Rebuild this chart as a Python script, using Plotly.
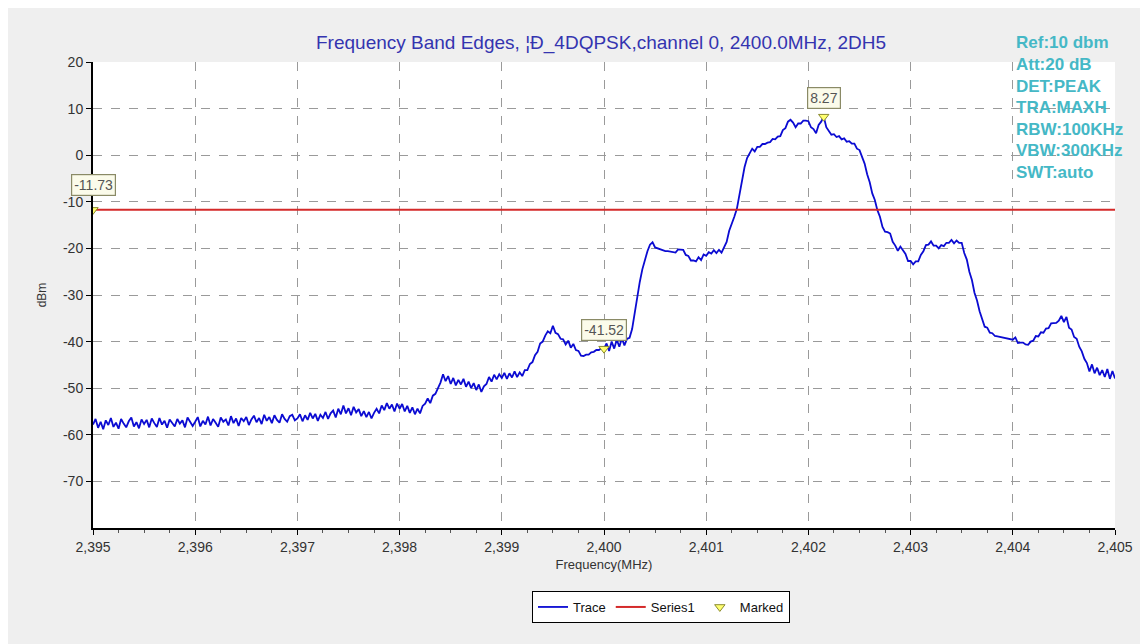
import plotly.graph_objects as go

# ---------------- data ----------------
f_start = 2395.0
f_step = 0.025  # MHz between trace samples

trace_2395 = [-57.8,-56.6,-58.5,-57.2,-58.8,-56.9,-57.9,-56.4,-58.3,-57.4,-58.7,-56.6,-57.6,-58.4,-57.1,-56.3,-58.2,-57.3,-58.6,-56.7,
              -57.7,-56.8,-58.4,-56.5,-57.5,-58.3,-56.4,-57.8,-57.0,-58.5,-56.7,-57.4,-58.2,-56.6,-57.6,-56.9,-58.4,-56.3,-57.3,-58.1]
trace_2396 = [-57.2,-56.2,-58.2,-57.0,-57.8,-56.1,-58.0,-56.6,-57.4,-58.3,-56.3,-57.2,-56.7,-58.0,-56.0,-57.5,-56.5,-58.1,-56.4,-57.1,
              -56.2,-57.9,-56.7,-55.9,-57.3,-56.4,-57.7,-55.7,-57.0,-56.2,-57.5,-55.8,-56.8,-57.4,-55.6,-56.6,-57.2,-56.0,-55.7,-56.9]
trace_2397 = [-56.5,-55.6,-57.1,-55.8,-56.8,-55.3,-56.5,-55.5,-57.0,-55.7,-56.4,-55.1,-56.6,-55.4,-54.8,-56.3,-54.4,-55.6,-53.7,-55.4,
              -54.3,-55.8,-54.0,-55.2,-54.5,-56.0,-54.9,-56.2,-55.1,-56.5,-55.3,-54.4,-55.4,-53.7,-54.7,-53.2,-54.4,-53.5,-55.0,-53.3]
trace_2398 = [-54.4,-53.4,-55.0,-53.8,-55.3,-54.1,-55.6,-54.4,-55.4,-53.8,-53.3,-52.2,-53.2,-51.6,-51.2,-50.0,-48.8,-47.0,-48.5,-47.4,
              -49.1,-47.8,-49.4,-48.2,-49.2,-48.0,-49.7,-48.6,-50.0,-48.9,-50.4,-49.2,-50.8,-49.6,-49.1,-47.6,-48.6,-47.1,-48.1,-47.0]
trace_2399 = [-47.8,-46.7,-48.0,-46.8,-47.7,-46.4,-47.6,-46.6,-47.4,-46.1,-46.1,-44.8,-44.4,-42.9,-42.2,-40.4,-40.0,-38.7,-37.8,-38.2,
              -36.6,-38.1,-38.4,-39.4,-39.5,-40.6,-39.8,-41.3,-40.5,-41.8,-42.0,-43.0,-43.1,-42.8,-42.8,-42.3,-42.2,-41.8,-41.8,-41.4]
trace_2400 = [-41.5,-40.4,-42.0,-40.0,-41.5,-39.6,-41.1,-39.3,-40.8,-39.4,-39.2,-37.3,-33.8,-30.0,-27.2,-24.5,-22.3,-20.6,-19.2,-18.7,
              -19.8,-20.0,-20.1,-20.4,-20.6,-20.6,-20.7,-20.8,-20.9,-20.2,-20.3,-20.3,-21.4,-21.6,-22.6,-22.6,-22.8,-21.9,-22.5,-21.3]
trace_2401 = [-21.6,-20.8,-21.1,-20.4,-21.0,-20.3,-20.9,-19.8,-18.6,-16.2,-14.8,-13.2,-11.5,-8.4,-5.2,-2.6,-0.6,0.5,1.4,0.8,
              1.8,1.8,2.4,2.4,2.7,2.8,3.5,3.4,4.0,4.1,5.4,5.8,7.2,7.6,7.0,6.0,6.8,6.8,7.4,7.4]
trace_2402 = [7.3,6.0,5.6,4.7,6.5,7.2,8.27,6.0,5.1,4.4,4.5,3.9,4.1,3.4,3.6,2.9,3.0,2.5,2.5,1.4,
              1.1,-0.6,-1.8,-4.1,-5.8,-8.2,-9.6,-11.8,-13.2,-15.4,-16.4,-16.5,-16.8,-18.6,-19.4,-20.5,-19.6,-20.4,-21.2,-22.7]
trace_2403 = [-22.7,-23.4,-22.8,-22.8,-21.4,-20.6,-19.3,-19.2,-18.5,-19.4,-19.4,-20.0,-19.3,-19.5,-18.8,-18.8,-18.2,-18.9,-18.3,-18.8,
              -18.8,-21.0,-22.4,-25.0,-26.8,-29.5,-31.2,-33.5,-35.0,-36.8,-37.0,-38.1,-38.2,-38.8,-38.9,-39.0,-39.1,-39.2,-39.4,-39.4]
trace_2404 = [-39.6,-39.1,-40.3,-40.2,-40.2,-40.6,-40.7,-40.0,-39.8,-38.8,-38.9,-38.0,-38.1,-37.2,-37.1,-36.1,-36.1,-36.0,-35.5,-34.5,
              -35.8,-34.7,-37.0,-37.4,-39.0,-39.4,-41.1,-42.1,-43.7,-44.6,-46.4,-44.9,-46.8,-45.6,-47.2,-46.1,-47.6,-45.9,-48.0,-46.3,
              -47.9]

trace_dbm = (trace_2395 + trace_2396 + trace_2397 + trace_2398 + trace_2399 +
             trace_2400 + trace_2401 + trace_2402 + trace_2403 + trace_2404)
trace_mhz = [round(f_start + i * f_step, 4) for i in range(len(trace_dbm))]

limit_mhz = [2395.0, 2405.0]
limit_dbm = [-11.73, -11.73]

marker_mhz = [2395.0, 2400.0, 2402.15]
marker_dbm = [-11.73, -41.52, 8.27]
marker_labels = ["-11.73", "-41.52", "8.27"]
label_lift = [25, 19, 19]   # pixels above the marked point

x_ticks = [2395, 2396, 2397, 2398, 2399, 2400, 2401, 2402, 2403, 2404, 2405]
x_labels = ["2,395", "2,396", "2,397", "2,398", "2,399", "2,400", "2,401", "2,402", "2,403", "2,404", "2,405"]
y_ticks = [-70, -60, -50, -40, -30, -20, -10, 0, 10, 20]
y_labels = ["-70", "-60", "-50", "-40", "-30", "-20", "-10", "0", "10", "20"]

info_lines = ["Ref:10 dbm", "Att:20 dB", "DET:PEAK", "TRA:MAXH", "RBW:100KHz", "VBW:300KHz", "SWT:auto"]

title_text = "Frequency Band Edges, ¦Ð_4DQPSK,channel 0, 2400.0MHz, 2DH5"

# ---------------- figure ----------------
FONT = "Liberation Sans, Arial, sans-serif"
OFF = 8                      # page body margin
W, H = 1140, 636
L, R, T, B = 85, 33, 54, 116
PW, PH = W - L - R, H - T - B

def px_x(px):               # screenshot pixel -> paper coordinate
    return (px - OFF - L) / PW

def px_y(py):
    return (H - B - (py - OFF)) / PH

fig = go.Figure()
fig.add_trace(go.Scatter(x=trace_mhz, y=trace_dbm, mode="lines", name="Trace",
                         line=dict(color="#0b0bd2", width=1.8)))
fig.add_trace(go.Scatter(x=limit_mhz, y=limit_dbm, mode="lines", name="Series1",
                         line=dict(color="#d42a2a", width=2)))
fig.add_trace(go.Scatter(x=marker_mhz, y=marker_dbm, mode="markers", name="Marked",
                         marker=dict(symbol="triangle-down", size=9, color="#ffff70",
                                     line=dict(color="#8c8c30", width=1))))

for mx, my, lab, lift in zip(marker_mhz, marker_dbm, marker_labels, label_lift):
    fig.add_annotation(x=mx, y=my, text=lab, showarrow=False, yshift=lift,
                       yanchor="middle", xanchor="center",
                       bgcolor="#fbfbea", bordercolor="#8a8a66", borderwidth=1.2,
                       borderpad=2, font=dict(family=FONT, size=14, color="#555555"))

fig.add_annotation(xref="paper", yref="paper", x=px_x(601), y=px_y(43), text=title_text,
                   showarrow=False, xanchor="center", yanchor="middle",
                   font=dict(family=FONT, size=19, color="#3434b0"))

for i, line in enumerate(info_lines):
    fig.add_annotation(xref="paper", yref="paper", x=px_x(1014), y=px_y(43 + i * 21.5),
                       text="<b>" + line + "</b>", showarrow=False,
                       xanchor="left", yanchor="middle",
                       font=dict(family=FONT, size=17, color="#45b8c6"))

fig.update_layout(
    width=W, height=H,
    margin=dict(l=L, r=R, t=T, b=B),
    paper_bgcolor="#efefef", plot_bgcolor="#ffffff",
    font=dict(family=FONT, size=13, color="#333333"),
    showlegend=True,
    legend=dict(orientation="h", x=px_x(661), y=px_y(607), xanchor="center", yanchor="middle",
                bgcolor="#ffffff", bordercolor="#000000", borderwidth=1,
                font=dict(family=FONT, size=13, color="#111111"),
                itemwidth=30, tracegroupgap=0),
)

fig.update_xaxes(range=[2395, 2405], tickvals=x_ticks, ticktext=x_labels,
                 showline=True, linecolor="#000000", linewidth=2,
                 ticks="outside", ticklen=5, tickcolor="#000000",
                 minor=dict(dtick=0.25, ticks="outside", ticklen=3, tickcolor="#555555", showgrid=False),
                 showgrid=True, gridcolor="#9a9a9a", griddash="dash", gridwidth=1,
                 zeroline=False, tickfont=dict(size=14, color="#333333"),
                 title=dict(text="Frequency(MHz)", font=dict(size=13, color="#333333"), standoff=6))
fig.update_yaxes(range=[-80, 20], tickvals=y_ticks, ticktext=y_labels,
                 showline=True, linecolor="#000000", linewidth=2,
                 ticks="outside", ticklen=5, tickcolor="#000000",
                 showgrid=True, gridcolor="#9a9a9a", griddash="dash", gridwidth=1,
                 zeroline=False, tickfont=dict(size=14, color="#333333"),
                 title=dict(text="dBm", font=dict(size=12, color="#333333"), standoff=14))

fig.write_html("out.html")
